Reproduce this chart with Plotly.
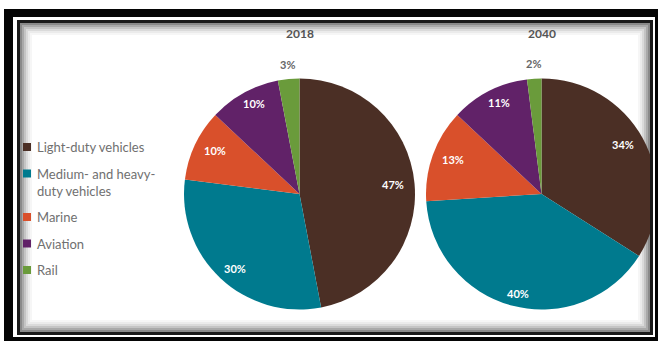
import math
import plotly.graph_objects as go

# ---- data ----
categories = ["Light-duty vehicles", "Medium- and heavy-duty vehicles", "Marine", "Aviation", "Rail"]
legend_labels = ["Light-duty vehicles", "Medium- and heavy-<br>duty vehicles", "Marine", "Aviation", "Rail"]
years = ["2018", "2040"]
share_2018 = [47, 30, 10, 10, 3]
share_2040 = [34, 40, 13, 11, 2]
colors = ["#4b2f25", "#007a8e", "#d9502b", "#612268", "#6a9b3b"]

shares = [share_2018, share_2040]

# ---- canvas helpers (pixel -> paper) ----
W, H = 658, 341


def px(x):
    return x / W


def py(y):
    return 1 - y / H


FONT = "Lato"
centers = [(299.5, 194.0), (541.5, 194.0)]
R = 115.5

fig = go.Figure()
annotations = []
shapes = []

for year, vals, (cx, cy) in zip(years, shares, centers):
    fig.add_trace(go.Pie(
        labels=categories,
        values=vals,
        marker=dict(colors=colors, line=dict(width=0)),
        sort=False,
        direction="clockwise",
        rotation=0,
        textinfo="none",
        hovertemplate="%{label}: %{value}%<extra>" + year + "</extra>",
        showlegend=False,
        domain=dict(x=[px(cx - R), px(cx + R)], y=[py(cy + R), py(cy - R)]),
    ))
    # year heading
    annotations.append(dict(
        x=px(cx), y=py(33), xref="paper", yref="paper", text="<b>" + year + "</b>",
        showarrow=False, xanchor="center", yanchor="middle",
        font=dict(family=FONT, size=12, color="#555555"),
    ))
    # percentage labels, placed at each slice's mid angle
    total = sum(vals)
    cum = 0
    for v in vals:
        theta = 2 * math.pi * (cum + v / 2) / total
        cum += v
        if v < 5:
            rx = ry = 1.13 * R
            col = "#666666"
        else:
            rx, ry = 0.81 * R, 0.89 * R
            col = "#ffffff"
        lx = cx + rx * math.sin(theta)
        ly = cy - ry * math.cos(theta)
        annotations.append(dict(
            x=px(lx), y=py(ly), xref="paper", yref="paper", text="<b>%d%%</b>" % v,
            showarrow=False, xanchor="center", yanchor="middle",
            font=dict(family=FONT, size=11, color=col),
        ))

# ---- legend (square swatch + label per category) ----
row_y = 147.0
for label, col in zip(legend_labels, colors):
    n_lines = label.count("<br>") + 1
    shapes.append(dict(type="rect", xref="paper", yref="paper",
                       x0=px(23), x1=px(31), y0=py(row_y + 4), y1=py(row_y - 4),
                       fillcolor=col, line=dict(width=0)))
    annotations.append(dict(
        x=px(35), y=py(row_y + 8.5 * (n_lines - 1)), xref="paper", yref="paper",
        text=label, showarrow=False, xanchor="left", yanchor="middle", align="left",
        font=dict(family=FONT, size=13, color="#707070"),
    ))
    row_y += 26.5 + 17 * (n_lines - 1)


# ---- double frame with inner shading ----
def band(x0, y0, x1, y1, color, layer="above"):
    shapes.append(dict(type="rect", xref="paper", yref="paper", layer=layer,
                       x0=px(x0), x1=px(x1), y0=py(y1), y1=py(y0),
                       fillcolor=color, line=dict(width=0)))


def frame(x0, y0, x1, y1, l, t, r, b, color, layer="above"):
    band(x0, y0, x0 + l, y1, color, layer)
    band(x0, y0, x1, y0 + t, color, layer)
    band(x1 - r, y0, x1, y1, color, layer)
    band(x0, y1 - b, x1, y1, color, layer)


# soft inner shading
for i, c in enumerate(["#8a8a8a", "#a9a9a9", "#c4c4c4", "#dadada", "#ebebeb", "#f6f6f6"]):
    d = 2 * i
    frame(20 + d, 23 + d, 650 - d, 332 - d, 2, 2, 2, 2, c, layer="below")

frame(4, 9, 660, 343, 9, 8, 5, 6, "#050505")        # thick outer band
frame(13, 17, 655, 337, 4, 3, 2, 2, "#ffffff")      # white gap
frame(17, 20, 653, 335, 3, 3, 3, 3, "#1a1a1a")      # thin inner line

fig.update_layout(
    width=W, height=H,
    margin=dict(l=0, r=0, t=0, b=0),
    paper_bgcolor="#ffffff",
    plot_bgcolor="#ffffff",
    annotations=annotations,
    shapes=shapes,
    showlegend=False,
)

fig.write_html("out.html")
